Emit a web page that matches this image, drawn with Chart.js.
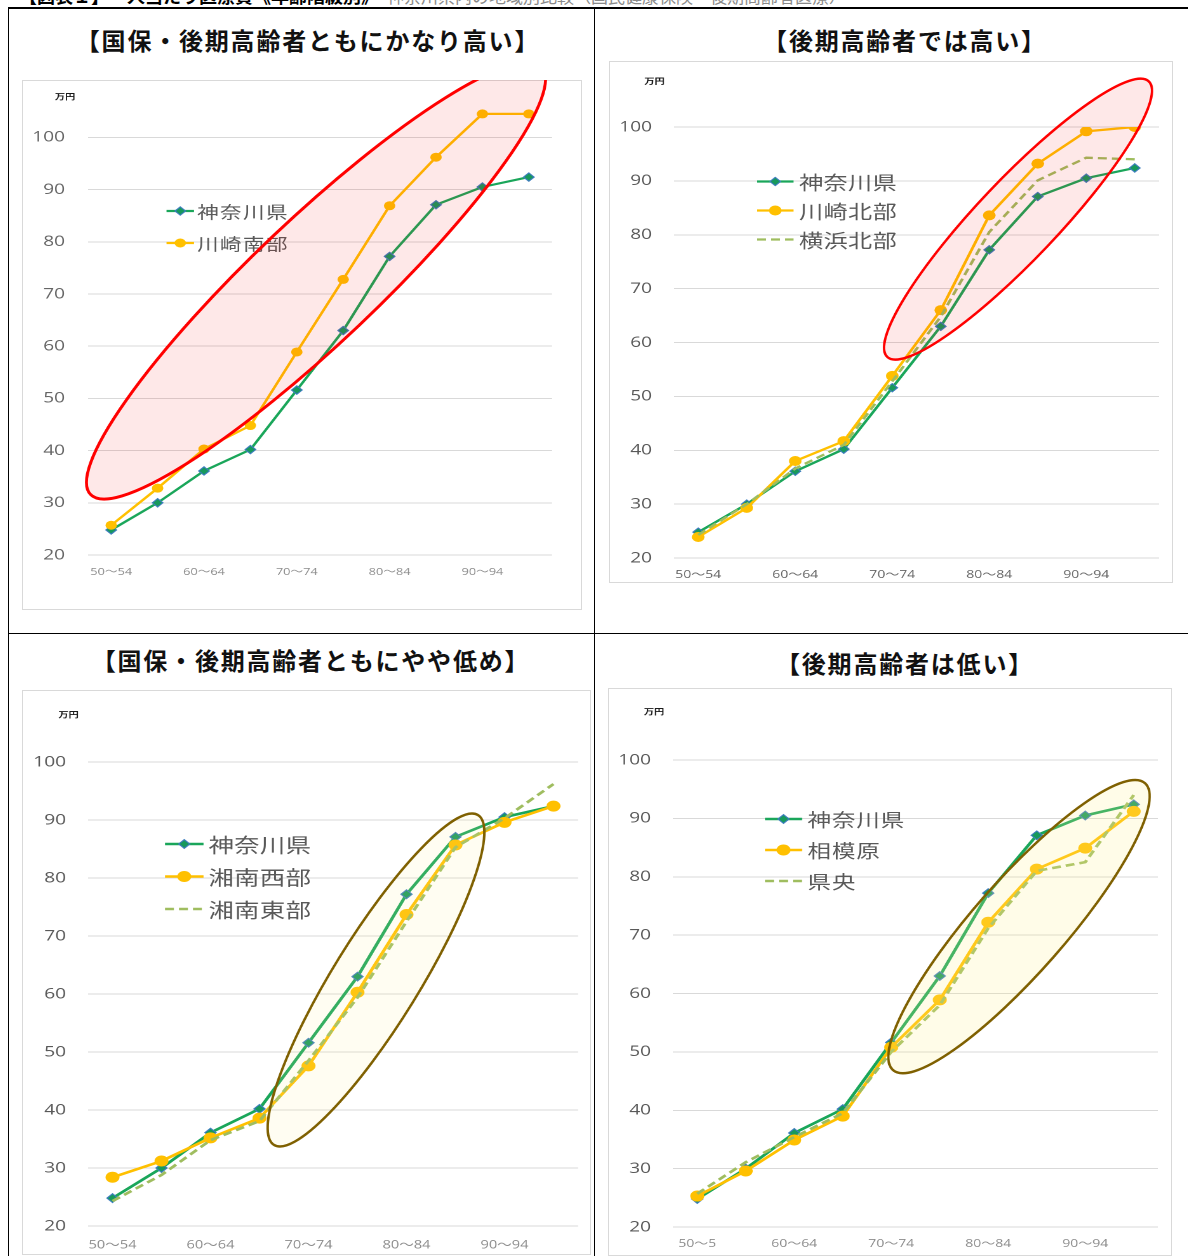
<!DOCTYPE html>
<html lang="ja">
<head>
<meta charset="utf-8">
<title>年齢階級別 一人当たり医療費</title>
<script src="https://cdn.jsdelivr.net/npm/chart.js@4.4.1/dist/chart.umd.min.js"></script>
<style>
  html, body { margin: 0; padding: 0; background: #fff; }
  body { width: 1188px; height: 1256px; position: relative; overflow: hidden;
         font-family: 'Noto Sans CJK JP', 'Noto Sans', sans-serif; }
  .rule { position: absolute; background: #000; }
  .heading { position: absolute; top: -14px; left: 19px; white-space: nowrap;
             font-size: 18px; line-height: 18px; font-weight: 700; color: #000; }
  .heading span { font-weight: 400; color: #8a8a8a; font-size: 17px; }
  .cell-title { position: absolute; white-space: nowrap; transform: translateX(-50%);
                font-size: 24px; line-height: 30px; font-weight: 700; letter-spacing: 1.8px; color: #111; }
  .frame { position: absolute; box-sizing: border-box; border: 1px solid #d9d9d9; }
  canvas { position: absolute; }
</style>
</head>
<body>
<div class="heading">【図表１】一人当たり医療費《年齢階級別》<span>　神奈川県内の地域別比較（国民健康保険・後期高齢者医療）</span></div>

<div class="rule" style="left:8px; top:7px; width:1180px; height:2px"></div>
<div class="rule" style="left:8px; top:7px; width:1px; height:1249px"></div>
<div class="rule" style="left:594px; top:7px; width:1px; height:1249px"></div>
<div class="rule" style="left:8px; top:633px; width:1180px; height:1px"></div>

<div class="cell-title" style="left:308px; top:25px">【国保・後期高齢者ともにかなり高い】</div>
<div class="cell-title" style="left:905px; top:25px">【後期高齢者では高い】</div>
<div class="cell-title" style="left:311px; top:645px">【国保・後期高齢者ともにやや低め】</div>
<div class="cell-title" style="left:905px; top:648px">【後期高齢者は低い】</div>

<script>
// Age bands (categories) and the labels printed under the axis
const AGE_BANDS = ['50〜54', '55〜59', '60〜64', '65〜69', '70〜74', '75〜79', '80〜84', '85〜89', '90〜94', '95〜99'];
const AXIS_LABELS = ['50〜54', '', '60〜64', '', '70〜74', '', '80〜84', '', '90〜94', ''];
const AXIS_LABELS_SAGAMIHARA = ['50〜5', '', '60〜64', '', '70〜74', '', '80〜84', '', '90〜94', ''];
const VALUE_TICKS = [20, 30, 40, 50, 60, 70, 80, 90, 100];

// Medical cost per person (万円) by age band
const KANAGAWA       = [24.8, 30.0, 36.1, 40.2, 51.6, 63.0, 77.2, 87.1, 90.5, 92.4];
const KAWASAKI_SOUTH = [25.7, 32.8, 40.3, 44.8, 58.9, 72.8, 86.9, 96.2, 104.5, 104.5];
const KAWASAKI_NORTH = [23.9, 29.3, 38.0, 41.7, 53.8, 66.0, 83.6, 93.2, 99.2, 100.0];
const YOKOHAMA_NORTH = [24.3, 30.0, 36.6, 41.0, 52.8, 64.8, 80.5, 90.1, 94.3, 94.0];
const SHONAN_WEST    = [28.4, 31.2, 35.2, 38.6, 47.6, 60.3, 73.7, 85.7, 89.6, 92.4];
const SHONAN_EAST    = [24.3, 28.8, 34.8, 38.1, 48.5, 59.4, 72.5, 85.3, 90.3, 96.2];
const SAGAMIHARA     = [25.3, 29.6, 34.9, 39.0, 50.8, 58.9, 72.2, 81.3, 84.9, 91.2];
const KENO           = [25.7, 31.1, 35.4, 39.5, 50.0, 58.0, 71.2, 81.0, 82.5, 94.0];

// The chart pictures are drawn narrow and widened on the page
const SX = 1.27;

const PANELS = [
  {
    box: { x: 22, y: 80, w: 560, h: 530 }, plot: { l: 88, r: 552, t: 84.75, b: 555 }, yMax: 110,
    yLabelRight: 65, yColor: '#666666', xLabelY: 572, xFont: 10, xColor: '#8c8c8c', tickLabels: AXIS_LABELS,
    unit: [65, 96.5],
    legend: { x0: 166.5, x1: 194, tx: 197, y: 211, gap: 32, font: 17, ls: 1.1 },
    lineWidth: 2.2, dot: 4.5, diamond: 4.2,
    series: [
      { label: '神奈川県', data: KANAGAWA, kind: 'pref' },
      { label: '川崎南部', data: KAWASAKI_SOUTH, kind: 'area' }
    ],
    ring: { from: [-0.447, 31.61], to: [9.274, 113.46], minor: 62, stroke: '#ff0000', width: 3, fill: 'rgba(240,0,0,0.09)' }
  },
  {
    box: { x: 609, y: 61, w: 564, h: 522 }, plot: { l: 674, r: 1159, t: 127, b: 558 }, yMax: 100,
    yLabelRight: 652, yColor: '#595959', xLabelY: 575, xFont: 11, xColor: '#666666', tickLabels: AXIS_LABELS,
    unit: [654.5, 81],
    legend: { x0: 757, x1: 793.5, tx: 799, y: 181.5, gap: 29, font: 19, ls: 0.3 },
    lineWidth: 2.3, dot: 5, diamond: 4.2,
    series: [
      { label: '神奈川県', data: KANAGAWA, kind: 'pref' },
      { label: '川崎北部', data: KAWASAKI_NORTH, kind: 'area' },
      { label: '横浜北部', data: YOKOHAMA_NORTH, kind: 'dash' }
    ],
    ring: { from: [3.896, 57.33], to: [9.290, 108.46], minor: 40, stroke: '#ff0000', width: 2.5, fill: 'rgba(240,0,0,0.09)' }
  },
  {
    box: { x: 22, y: 690, w: 569, h: 565 }, plot: { l: 88, r: 578, t: 762, b: 1226 }, yMax: 100,
    yLabelRight: 66, yColor: '#595959', xLabelY: 1245, xFont: 11.5, xColor: '#8c8c8c', tickLabels: AXIS_LABELS,
    unit: [68.5, 714.5],
    legend: { x0: 165, x1: 203.5, tx: 208.5, y: 844, gap: 32.5, font: 20, ls: 0.2 },
    lineWidth: 2.6, dot: 5.5, diamond: 4.4,
    series: [
      { label: '神奈川県', data: KANAGAWA, kind: 'pref' },
      { label: '湘南西部', data: SHONAN_WEST, kind: 'area' },
      { label: '湘南東部', data: SHONAN_EAST, kind: 'dash' }
    ],
    ring: { from: [3.296, 33.97], to: [7.459, 90.86], minor: 43, stroke: '#7f6000', width: 2.5, fill: 'rgba(255,235,150,0.12)' }
  },
  {
    box: { x: 608, y: 688, w: 564, h: 568 }, plot: { l: 673, r: 1158, t: 760, b: 1227 }, yMax: 100,
    yLabelRight: 651, yColor: '#595959', xLabelY: 1244, xFont: 11, xColor: '#8c8c8c', tickLabels: AXIS_LABELS_SAGAMIHARA,
    unit: [654, 711.5],
    legend: { x0: 765, x1: 802, tx: 807.5, y: 819, gap: 31, font: 18.5, ls: 0.7 },
    lineWidth: 2.6, dot: 5.5, diamond: 4.4,
    series: [
      { label: '神奈川県', data: KANAGAWA, kind: 'pref' },
      { label: '相模原', data: SAGAMIHARA, kind: 'area' },
      { label: '県央', data: KENO, kind: 'dash' }
    ],
    ring: { from: [4.036, 46.88], to: [9.232, 96.03], minor: 46, stroke: '#7f6000', width: 2.5, fill: 'rgba(255,240,140,0.2)' }
  }
];

const GREEN = '#1aa65a', GREEN_DOT = '#17995c', GREEN_EDGE = '#3f7ebf';
const AMBER = '#ffc000';
const OLIVE = '#9fbd5f';

function seriesStyle(s, p) {
  const base = { label: s.label, data: s.data, tension: 0, borderWidth: p.lineWidth, fill: false };
  if (s.kind === 'pref') {
    return Object.assign(base, { borderColor: GREEN, pointStyle: 'rectRot', pointRadius: p.diamond,
      pointBackgroundColor: GREEN_DOT, pointBorderColor: GREEN_EDGE, pointBorderWidth: 1, order: 2 });
  }
  if (s.kind === 'area') {
    return Object.assign(base, { borderColor: AMBER, pointStyle: 'circle', pointRadius: p.dot,
      pointBackgroundColor: AMBER, pointBorderColor: AMBER, pointBorderWidth: 0, order: 1 });
  }
  return Object.assign(base, { borderColor: OLIVE, borderDash: [7, 4], pointRadius: 0, order: 0 });
}

function drawMarker(ctx, ds, x, y) {
  ctx.save();
  ctx.beginPath();
  const r = ds.pointRadius;
  if (ds.pointStyle === 'rectRot') {
    ctx.moveTo(x - r, y); ctx.lineTo(x, y - r); ctx.lineTo(x + r, y); ctx.lineTo(x, y + r); ctx.closePath();
  } else {
    ctx.arc(x, y, r, 0, Math.PI * 2);
  }
  ctx.fillStyle = ds.pointBackgroundColor;
  ctx.fill();
  if (ds.pointBorderWidth > 0) {
    ctx.lineWidth = ds.pointBorderWidth;
    ctx.strokeStyle = ds.pointBorderColor;
    ctx.stroke();
  }
  ctx.restore();
}

function buildPanel(p) {
  const frame = document.createElement('div');
  frame.className = 'frame';
  Object.assign(frame.style, { left: p.box.x + 'px', top: p.box.y + 'px', width: p.box.w + 'px', height: p.box.h + 'px' });
  document.body.appendChild(frame);

  const canvas = document.createElement('canvas');
  const lw = Math.round(p.box.w / SX);
  const sx = p.box.w / lw;
  canvas.width = lw;
  canvas.height = p.box.h;
  Object.assign(canvas.style, { left: p.box.x + 'px', top: p.box.y + 'px', width: p.box.w + 'px', height: p.box.h + 'px' });
  document.body.appendChild(canvas);

  const toX = px => (px - p.box.x) / sx;
  const toY = py => py - p.box.y;

  const decor = {
    id: 'panelDecor',
    afterDatasetsDraw(chart) {
      const ctx = chart.ctx;
      ctx.save();
      // unit caption above the value axis
      ctx.font = "700 8px 'Noto Sans CJK JP'";
      ctx.fillStyle = '#1a1a1a';
      ctx.textAlign = 'center';
      ctx.textBaseline = 'middle';
      ctx.fillText('万円', toX(p.unit[0]), toY(p.unit[1]));
      // legend inside the plot
      const lg = p.legend;
      chart.data.datasets.forEach((ds, k) => {
        const y = toY(lg.y + k * lg.gap);
        const x0 = toX(lg.x0), x1 = toX(lg.x1);
        ctx.strokeStyle = ds.borderColor;
        ctx.lineWidth = ds.borderWidth;
        ctx.setLineDash(ds.borderDash || []);
        ctx.beginPath(); ctx.moveTo(x0, y); ctx.lineTo(x1, y); ctx.stroke();
        ctx.setLineDash([]);
        if (ds.pointRadius > 0) drawMarker(ctx, ds, (x0 + x1) / 2, y);
        ctx.font = lg.font + "px 'Noto Sans CJK JP'";
        ctx.fillStyle = '#595959';
        ctx.textAlign = 'left';
        ctx.textBaseline = 'middle';
        ctx.letterSpacing = lg.ls + 'px';
        ctx.fillText(ds.label, toX(lg.tx), y + 1);
        ctx.letterSpacing = '0px';
      });
      ctx.restore();
    },
    afterDraw(chart) {
      // highlight ring, placed in data coordinates
      const ctx = chart.ctx, xs = chart.scales.x, ys = chart.scales.y, rg = p.ring;
      const ax = xs.getPixelForValue(rg.from[0]) * sx, ay = ys.getPixelForValue(rg.from[1]);
      const bx = xs.getPixelForValue(rg.to[0]) * sx, by = ys.getPixelForValue(rg.to[1]);
      const cx = (ax + bx) / 2, cy = (ay + by) / 2;
      const semi = Math.hypot(bx - ax, by - ay) / 2;
      const ang = Math.atan2(by - ay, bx - ax);
      ctx.save();
      ctx.scale(1 / sx, 1);
      ctx.beginPath();
      ctx.ellipse(cx, cy, semi, rg.minor, ang, 0, Math.PI * 2);
      ctx.fillStyle = rg.fill;
      ctx.fill();
      ctx.lineWidth = rg.width;
      ctx.strokeStyle = rg.stroke;
      ctx.stroke();
      ctx.restore();
    }
  };

  new Chart(canvas, {
    type: 'line',
    data: { labels: AGE_BANDS, datasets: p.series.map(s => seriesStyle(s, p)) },
    options: {
      responsive: false,
      animation: false,
      devicePixelRatio: 2,
      events: [],
      layout: { padding: { left: 0, bottom: 0, top: p.plot.t - p.box.y, right: (p.box.x + p.box.w - p.plot.r) / sx } },
      plugins: { legend: { display: false }, tooltip: { enabled: false }, title: { display: false } },
      scales: {
        x: {
          offset: true,
          grid: { display: false, drawTicks: false },
          border: { display: false },
          ticks: {
            autoSkip: false, maxRotation: 0, minRotation: 0,
            padding: (p.xLabelY - p.plot.b) - 0.6 * p.xFont,
            color: p.xColor,
            font: { family: "'Open Sans', 'Noto Sans CJK JP', sans-serif", size: p.xFont },
            callback: (v, i) => p.tickLabels[i]
          },
          afterFit: s => { s.height = p.box.y + p.box.h - p.plot.b; s.paddingLeft = 0; s.paddingRight = 0; }
        },
        y: {
          min: 20, max: p.yMax,
          afterBuildTicks: s => { s.ticks = VALUE_TICKS.map(v => ({ value: v })); },
          grid: { color: '#d9d9d9', lineWidth: 1, drawTicks: false },
          border: { display: false },
          ticks: {
            padding: (p.plot.l - p.yLabelRight) / sx,
            color: p.yColor,
            font: { family: "'Open Sans', sans-serif", size: 15 }
          },
          afterFit: s => { s.width = (p.plot.l - p.box.x) / sx; s.paddingTop = 0; s.paddingBottom = 0; }
        }
      }
    },
    plugins: [decor]
  });
}

PANELS.forEach(buildPanel);
</script>
</body>
</html>
